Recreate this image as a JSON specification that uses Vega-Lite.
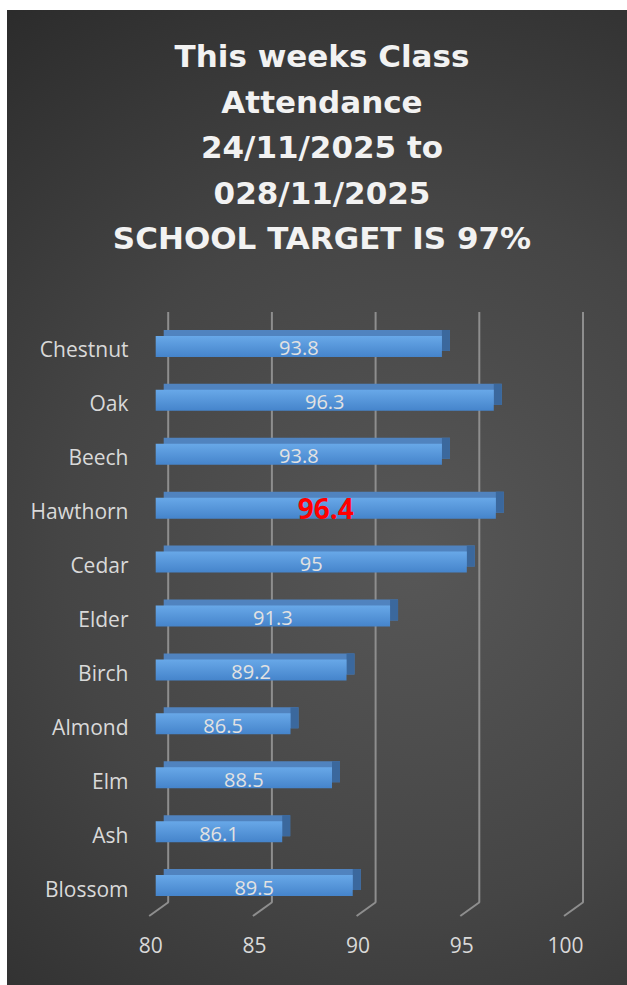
{
  "$schema": "https://vega.github.io/schema/vega-lite/v6.json",
  "width": 620,
  "height": 975,
  "autosize": {"type": "none"},
  "padding": {"left": 7, "top": 10, "right": 0, "bottom": 0},
  "background": "#ffffff",
  "title": {
    "text": ["This weeks Class", "Attendance", "24/11/2025 to", "028/11/2025", "SCHOOL TARGET IS 97%"],
    "font": "DejaVu Sans",
    "fontSize": 31,
    "fontWeight": "bold",
    "color": "#f2f2f2",
    "anchor": "middle",
    "frame": "group",
    "dx": 5,
    "lineHeight": 45.5,
    "baseline": "top",
    "offset": -246
  },
  "datasets": {
    "att": [
      {"class": "Chestnut", "value": 93.8},
      {"class": "Oak", "value": 96.3},
      {"class": "Beech", "value": 93.8},
      {"class": "Hawthorn", "value": 96.4},
      {"class": "Cedar", "value": 95},
      {"class": "Elder", "value": 91.3},
      {"class": "Birch", "value": 89.2},
      {"class": "Almond", "value": 86.5},
      {"class": "Elm", "value": 88.5},
      {"class": "Ash", "value": 86.1},
      {"class": "Blossom", "value": 89.5}
    ],
    "grid": [{"v": 80}, {"v": 85}, {"v": 90}, {"v": 95}, {"v": 100}]
  },
  "config": {
    "view": {
      "stroke": null,
      "fill": {
        "gradient": "radial",
        "x1": 0.6, "y1": 0.56, "r1": 0,
        "x2": 0.6, "y2": 0.56, "r2": 0.72,
        "stops": [
          {"offset": 0, "color": "#575757"},
          {"offset": 0.5, "color": "#454545"},
          {"offset": 1, "color": "#2a2a2a"}
        ]
      }
    },
    "axis": {"grid": false, "domain": false, "ticks": false, "labelColor": "#d9d9d9", "labelFont": "Open Sans", "labelFontSize": 21},
    "axisX": {"offset": -50, "labelPadding": 0, "labelOffset": -5.5, "tickCount": 5, "labelFlush": false},
    "axisY": {"offset": -121, "labelPadding": 0, "labelOffset": 5}
  },
  "layer": [
    {
      "data": {"name": "grid"},
      "mark": {"type": "rule", "color": "#8e8e8e", "strokeWidth": 2, "xOffset": 12.5, "yOffset": -34.5, "y2Offset": 16.5},
      "encoding": {
        "x": {"field": "v", "type": "quantitative", "title": null, "scale": {"domain": [80, 100], "range": [148.7, 563.5], "nice": false, "zero": false}},
        "y": {"datum": "Chestnut", "type": "nominal"},
        "y2": {"datum": "Blossom"}
      }
    },
    {
      "data": {"name": "grid"},
      "mark": {"type": "rule", "color": "#8e8e8e", "strokeWidth": 2, "xOffset": 13, "x2Offset": -6.5, "yOffset": 16.5, "y2Offset": 30.5},
      "encoding": {
        "x": {"field": "v", "type": "quantitative", "title": null},
        "x2": {"field": "v"},
        "y": {"datum": "Blossom", "type": "nominal"},
        "y2": {"datum": "Blossom"}
      }
    },
    {
      "data": {"name": "att"},
      "mark": {"type": "bar", "height": 21, "color": "#5083bf", "xOffset": 8, "x2Offset": 8, "yOffset": -6, "y2Offset": -6},
      "encoding": {
        "x": {"field": "value", "type": "quantitative", "title": null},
        "x2": {"datum": 80},
        "y": {"field": "class", "type": "nominal", "title": null, "scale": {"domain": ["Chestnut", "Oak", "Beech", "Hawthorn", "Cedar", "Elder", "Birch", "Almond", "Elm", "Ash", "Blossom"], "range": [309.5, 902.5], "paddingInner": 0, "paddingOuter": 0}}
      }
    },
    {
      "data": {"name": "att"},
      "mark": {"type": "bar", "height": 21, "color": "#3b689d", "x2Offset": 8, "yOffset": -6, "y2Offset": -6},
      "encoding": {
        "x": {"field": "value", "type": "quantitative", "title": null},
        "x2": {"field": "value"},
        "y": {"field": "class", "type": "nominal", "title": null}
      }
    },
    {
      "data": {"name": "att"},
      "mark": {
        "type": "bar",
        "height": 21,
        "color": {
          "gradient": "linear",
          "x1": 0, "y1": 0, "x2": 0, "y2": 1,
          "stops": [
            {"offset": 0, "color": "#68a8e8"},
            {"offset": 1, "color": "#4584cb"}
          ]
        }
      },
      "encoding": {
        "x": {"field": "value", "type": "quantitative", "title": null},
        "x2": {"datum": 80},
        "y": {"field": "class", "type": "nominal", "title": null}
      }
    },
    {
      "data": {"name": "att"},
      "transform": [{"filter": "datum.class !== 'Hawthorn'"}],
      "mark": {"type": "text", "font": "Open Sans", "fontSize": 20, "color": "#e2e2e2", "baseline": "middle", "align": "center", "dy": 3, "xOffset": {"expr": "(scale('x', 80) - scale('x', datum.value)) / 2"}},
      "encoding": {
        "x": {"field": "value", "type": "quantitative", "title": null},
        "y": {"field": "class", "type": "nominal", "title": null},
        "text": {"field": "value", "type": "quantitative"}
      }
    },
    {
      "data": {"name": "att"},
      "transform": [{"filter": "datum.class === 'Hawthorn'"}],
      "mark": {"type": "text", "font": "Open Sans", "fontSize": 28, "fontWeight": "bold", "color": "#ff0000", "baseline": "middle", "align": "center", "dy": 3, "xOffset": {"expr": "(scale('x', 80) - scale('x', datum.value)) / 2"}},
      "encoding": {
        "x": {"field": "value", "type": "quantitative", "title": null},
        "y": {"field": "class", "type": "nominal", "title": null},
        "text": {"field": "value", "type": "quantitative"}
      }
    }
  ]
}
